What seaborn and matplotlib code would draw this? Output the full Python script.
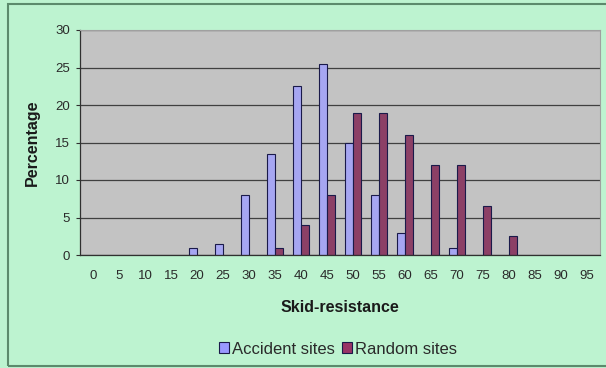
import matplotlib
matplotlib.use("Agg")
import matplotlib.pyplot as plt
from matplotlib.patches import Rectangle, Patch
import seaborn as sns
import pandas as pd

# Skid-resistance classes (0..95 in steps of 5)
categories = [str(v) for v in range(0, 100, 5)]

accident_bins = ["20", "25", "30", "35", "40", "45", "50", "55", "60", "70"]
accident_pct = [1, 1.5, 8, 13.5, 22.5, 25.5, 15, 8, 3, 1]

random_bins = ["35", "40", "45", "50", "55", "60", "65", "70", "75", "80"]
random_pct = [1, 4, 8, 19, 19, 16, 12, 12, 6.5, 2.5]

series_names = ["Accident sites", "Random sites"]
series_colors = ["#9999ff", "#993366"]

df = pd.concat([
    pd.DataFrame({"Skid": accident_bins, "Pct": accident_pct, "Site": series_names[0]}),
    pd.DataFrame({"Skid": random_bins, "Pct": random_pct, "Site": series_names[1]}),
])

sns.set_theme(style="white")
plt.rcParams["font.family"] = ["Liberation Sans", "DejaVu Sans"]

W, H = 606, 368
fig = plt.figure(figsize=(W / 100, H / 100), dpi=100)
fig.patch.set_facecolor("#bdf3d0")
ax = fig.add_axes([80 / W, 1 - 255 / H, 520 / W, 225 / H])
ax.set_facecolor("#c3c3c3")

sns.barplot(data=df, x="Skid", y="Pct", hue="Site", order=categories,
            hue_order=series_names, palette=series_colors, width=0.58,
            edgecolor="#1a1a4a", linewidth=0.8, ax=ax, legend=False)

ax.set_ylim(0, 30)
ax.set_xlim(-0.5, len(categories) - 0.5)
ax.set_yticks(range(0, 31, 5))
ax.yaxis.grid(True, color="#404040", linewidth=0.9)
ax.set_axisbelow(True)

# ticks at class boundaries, labels at class centres
ax.set_xticks([i - 0.5 for i in range(len(categories) + 1)], minor=True)
ax.tick_params(axis="x", which="minor", length=4, width=0.8, color="#303030",
               direction="inout")
ax.tick_params(axis="x", which="major", length=0, pad=11, labelsize=9.5,
               labelcolor="#2a2a2a")
ax.tick_params(axis="y", length=3, width=0.8, color="#303030", direction="out",
               labelsize=9.5, labelcolor="#2a2a2a", pad=4, left=True)

for side in ["top", "right"]:
    ax.spines[side].set_color("#a0a0a0")
    ax.spines[side].set_linewidth(0.8)
for side in ["left", "bottom"]:
    ax.spines[side].set_color("#303030")
    ax.spines[side].set_linewidth(0.9)

ax.set_xlabel("Skid-resistance", fontsize=11.5, fontweight="bold",
              color="#1a1a1a", labelpad=13)
ax.set_ylabel("Percentage", fontsize=11.5, fontweight="bold",
              color="#1a1a1a", labelpad=11)

handles = [Patch(facecolor=c, edgecolor="#1a1a4a", linewidth=0.8)
           for c in series_colors]
fig.legend(handles, series_names, loc="center",
           bbox_to_anchor=(338 / W, 1 - 349 / H),
           ncol=2, frameon=False, fontsize=12, handlelength=0.6,
           handleheight=0.6, handletextpad=0.2, columnspacing=0.4,
           labelcolor="#2a2a2a")

fig.patches.append(Rectangle((8 / W, 1 - 366 / H), 1.0, (366 - 4) / H,
                             transform=fig.transFigure, fill=False,
                             edgecolor="#5c8a6c", linewidth=1.5))

fig.savefig("out.png", dpi=100, facecolor=fig.get_facecolor())
